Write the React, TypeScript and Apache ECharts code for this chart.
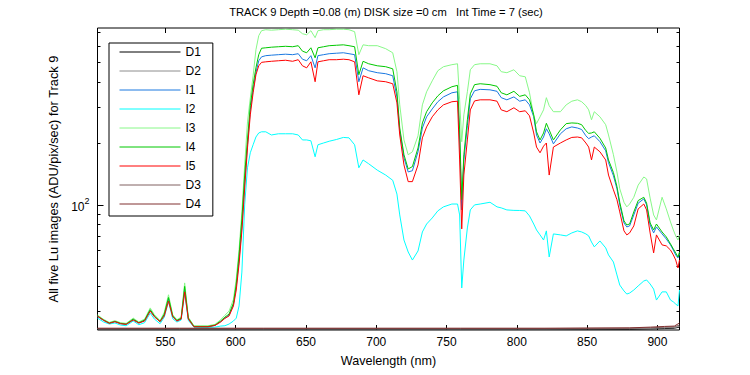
import React, { useEffect, useRef } from "react";
import * as echarts from "echarts";

const FONT = "'Liberation Sans', Arial, Helvetica, sans-serif";

const titleText = "TRACK 9 Depth =0.08 (m) DISK size =0 cm   Int Time = 7 (sec)";
const xName = "Wavelength (nm)";
const yName = "All five Lu images (ADU/pix/sec) for Track 9";

const xMin = 501.7;
const xMax = 915.7;
const yMin = 24.4;
const yMax = 735;

const xTicks = [550, 600, 650, 700, 750, 800, 850, 900];
const yMajorTicks = [100];
const yMinorTicks = [30, 40, 50, 60, 70, 80, 90, 200, 300, 400, 500, 600, 700];

const wavelength = [
  501.7, 506.1, 510.1, 514.1, 518.1, 522.1, 527.1, 531.1, 535.2, 539.2,
  542.2, 546.2, 549.2, 552.2, 555.2, 558.2, 561.2, 563.7, 566.3, 570.3,
  575.3, 580.3, 585.3, 589.3, 592.3, 595.3, 598.4, 600.4, 602.4, 604.4,
  606.4, 608.4, 610.4, 612.4, 614.4, 616.4, 618.4, 621.4, 625.4, 630.4,
  635.5, 640.5, 644.5, 647.5, 650.5, 653.5, 656.5, 658.5, 662.5, 666.5,
  671.6, 676.6, 680.6, 684.6, 687.6, 690.6, 694.6, 700.7, 706.7, 711.7,
  714.7, 716.7, 719.7, 722.7, 725.7, 729.7, 732.8, 735.8, 739.8, 743.8,
  747.8, 753.8, 757.8, 759.3, 760.8, 762.3, 764.8, 766.9, 769.9, 773.9,
  780.9, 785.9, 788.9, 792.9, 797.9, 802.0, 806.0, 809.0, 812.0, 814.0,
  816.5, 819.0, 821.0, 823.0, 826.0, 831.0, 835.1, 839.1, 843.1, 846.1,
  849.1, 851.1, 853.1, 855.1, 859.1, 863.2, 865.2, 868.7, 871.2, 873.2,
  876.2, 878.2, 880.2, 883.2, 886.3, 890.3, 892.3, 894.8, 897.3, 899.3,
  903.3, 906.3, 909.3, 911.3, 913.0, 914.6, 915.7,
];

const I1 = [
  28.4, 27.2, 26.3, 26.8, 26.2, 26.0, 27.4, 26.4, 27.1, 30.4,
  28.4, 26.8, 28.9, 34.6, 28.4, 27.1, 27.7, 38.8, 27.7, 25.3,
  25.3, 25.3, 25.7, 26.8, 27.9, 28.8, 32.5, 39.8, 53.7, 78.0,
  128, 197, 292, 366, 444, 508, 531, 538, 541, 544,
  547, 544, 550, 517, 508, 538, 469, 538, 544, 550,
  553, 556, 550, 544, 401, 469, 454, 444, 439, 429,
  338, 231, 170, 145, 147, 182, 238, 270, 295, 320,
  338, 354, 358, 208, 94.5, 166, 244, 331, 362, 368,
  366, 360, 335, 327, 338, 322, 327, 309, 270, 220,
  201, 215, 236, 223, 199, 223, 236, 241, 238, 234,
  218, 211, 215, 218, 204, 184, 161, 139, 120, 100,
  81.6, 78.0, 78.9, 89.3, 102, 107, 100, 79.8, 72.9, 78.0,
  72.1, 68.1, 63.7, 60.1, 56.9, 55.0, 57.5,
];

const I2 = [
  27.9, 26.7, 26.1, 26.4, 25.8, 25.6, 27.0, 25.9, 26.5, 29.5,
  27.6, 26.2, 28.2, 33.6, 27.7, 26.7, 27.3, 37.1, 27.2, 25.2,
  25.1, 25.1, 25.2, 25.5, 25.6, 26.1, 27.0, 27.9, 32.0, 46.9,
  100, 152, 180, 197, 215, 225, 228, 228, 220, 223,
  223, 223, 220, 208, 208, 206, 172, 197, 201, 205,
  209, 214, 213, 197, 152, 166, 159, 148, 140, 132,
  113, 89.3, 67.3, 58.8, 53.7, 59.5, 73.7, 80.6, 86.3, 93.5,
  97.8, 101, 101, 89.3, 39.2, 53.7, 77.1, 94.5, 100, 101,
  103, 97.8, 96.7, 94.5, 94.0, 93.9, 93.5, 88.3, 80.6, 75.4,
  71.3, 67.3, 74.6, 55.6, 72.1, 71.3, 70.5, 72.9, 74.6, 73.7,
  72.1, 70.5, 65.8, 62.3, 66.6, 61.6, 56.9, 52.5, 45.4, 40.5,
  37.9, 36.6, 37.0, 38.3, 40.1, 42.4, 42.9, 41.0, 38.7, 34.2,
  37.5, 37.5, 34.2, 33.5, 32.7, 32.0, 38.3,
];

const I3 = [
  28.9, 27.5, 26.6, 27.1, 26.5, 26.3, 27.9, 26.7, 27.6, 31.3,
  29.0, 27.1, 29.8, 36.3, 29.0, 27.4, 28.2, 41.5, 28.2, 25.6,
  25.6, 25.6, 26.0, 27.4, 28.8, 30.2, 34.5, 43.5, 60.5, 92.4,
  157, 255, 334, 429, 575, 674, 713, 721, 717, 721,
  725, 721, 717, 689, 681, 713, 659, 713, 721, 721,
  725, 725, 721, 705, 544, 608, 602, 602, 582, 556,
  449, 309, 208, 176, 182, 218, 309, 358, 405, 454,
  475, 486, 491, 327, 204, 276, 358, 459, 486, 491,
  491, 480, 449, 444, 459, 429, 424, 354, 273, 250,
  270, 292, 335, 306, 286, 286, 309, 322, 327, 320,
  306, 292, 261, 286, 270, 247, 220, 176, 145, 120,
  103, 97.8, 101, 109, 125, 137, 134, 108, 89.3, 84.4,
  109, 95.6, 82.5, 75.4, 70.5, 67.3, 71.3,
];

const I4 = [
  28.6, 27.3, 26.4, 26.9, 26.3, 26.1, 27.6, 26.5, 27.3, 30.7,
  28.6, 26.9, 29.2, 35.2, 28.6, 27.2, 27.9, 39.9, 27.9, 25.4,
  25.4, 25.4, 25.8, 27.0, 28.2, 29.2, 33.1, 41.0, 56.9, 85.4,
  140, 208, 306, 388, 469, 544, 585, 588, 592, 595,
  598, 595, 602, 566, 556, 588, 525, 588, 595, 602,
  605, 608, 602, 595, 434, 505, 491, 480, 475, 464,
  358, 238, 176, 150, 154, 190, 252, 286, 316, 342,
  362, 379, 385, 233, 106, 176, 261, 350, 388, 392,
  388, 381, 354, 346, 360, 340, 346, 327, 276, 228,
  208, 225, 251, 233, 208, 233, 250, 252, 251, 247,
  231, 224, 225, 228, 212, 190, 166, 144, 123, 103,
  83.5, 79.8, 80.6, 92.4, 105, 109, 102, 81.6, 75.4, 80.6,
  73.7, 69.7, 64.4, 60.9, 58.2, 55.6, 58.8,
];

const I5 = [
  28.5, 27.2, 26.3, 26.8, 26.2, 26.0, 27.3, 26.4, 27.0, 30.2,
  28.3, 26.8, 28.6, 33.8, 28.3, 27.0, 27.6, 37.5, 27.6, 25.3,
  25.3, 25.3, 25.7, 26.7, 27.8, 28.6, 32.0, 38.3, 51.4, 74.6,
  121, 190, 276, 354, 434, 480, 499, 502, 505, 508,
  511, 505, 514, 480, 469, 502, 401, 502, 508, 514,
  514, 517, 514, 502, 346, 429, 419, 405, 401, 392,
  316, 220, 157, 130, 130, 157, 213, 241, 270, 292,
  309, 320, 322, 166, 76.3, 140, 208, 292, 323, 327,
  327, 322, 292, 286, 299, 286, 289, 273, 225, 192,
  180, 194, 201, 140, 192, 201, 208, 214, 215, 213,
  201, 192, 166, 192, 182, 166, 140, 118.5, 106, 92.4,
  74.6, 71.3, 72.9, 78.9, 95.6, 101, 94.5, 72.9, 58.2, 71.3,
  63.7, 63.0, 60.1, 56.9, 53.7, 49.1, 53.7,
];

const darkWavelength = [501.7, 560, 620, 700, 760, 820, 880, 895, 905, 912, 915.7];
const D1 = [24.6, 24.6, 24.6, 24.6, 24.6, 24.6, 24.6, 24.7, 24.8, 24.9, 25.2];
const D2 = [24.7, 24.7, 24.7, 24.7, 24.7, 24.7, 24.8, 24.9, 25.0, 25.1, 25.4];
const D3 = [24.8, 24.8, 24.8, 24.8, 24.8, 24.8, 24.9, 25.0, 25.2, 25.3, 25.8];
const D4 = [24.9, 24.9, 24.9, 24.9, 24.9, 24.9, 25.0, 25.2, 25.4, 25.5, 26.4];

const seriesNames = ["D1", "D2", "I1", "I2", "I3", "I4", "I5", "D3", "D4"];
const seriesColors = ["#000000", "#8c8c8c", "#1a78e0", "#00ffff", "#88f888", "#00c800", "#ff0000", "#806060", "#803030"];

export default function App() {
  const ref = useRef<HTMLDivElement>(null);

  useEffect(() => {
    document.body.style.margin = "0";
    const chart = echarts.init(ref.current as HTMLDivElement, null, { renderer: "svg" });

    const zip = (xs: number[], ys: number[]) => xs.map((x, i) => [x, ys[i]]);
    const dataByName: Record<string, number[][]> = {
      D1: zip(darkWavelength, D1),
      D2: zip(darkWavelength, D2),
      I1: zip(wavelength, I1),
      I2: zip(wavelength, I2),
      I3: zip(wavelength, I3),
      I4: zip(wavelength, I4),
      I5: zip(wavelength, I5),
      D3: zip(darkWavelength, D3),
      D4: zip(darkWavelength, D4),
    };

    const tickStyle = { color: "#000", width: 1 };

    const yBase = (position: "left" | "right") => ({
      type: "log" as const,
      logBase: 10,
      position,
      min: yMin,
      max: yMax,
      axisLine: { show: false },
      splitLine: { show: false },
      minorTick: { show: false },
      minorSplitLine: { show: false },
    });

    chart.setOption({
      animation: false,
      backgroundColor: "#fff",
      title: {
        text: titleText,
        left: 386,
        top: 6,
        textAlign: "center",
        padding: 0,
        textStyle: { fontSize: 11.2, fontWeight: "normal", color: "#000", fontFamily: FONT },
      },
      grid: {
        left: 97.5,
        right: 70.5,
        top: 28,
        bottom: 45,
        containLabel: false,
        outerBoundsMode: "none",
        show: true,
        borderColor: "#000",
        borderWidth: 1,
        backgroundColor: "transparent",
      },
      legend: {
        orient: "vertical",
        left: 109,
        top: 43,
        padding: [3, 12, 6, 10],
        itemWidth: 61,
        itemHeight: 12,
        itemGap: 7.0,
        borderColor: "#000",
        borderWidth: 1,
        borderRadius: 0,
        backgroundColor: "#fff",
        data: seriesNames,
        itemStyle: { opacity: 0, borderWidth: 0 },
        lineStyle: { width: 1 },
        textStyle: { fontSize: 12, color: "#000", fontFamily: FONT },
      },
      xAxis: [
        {
          type: "value",
          position: "bottom",
          min: xMin,
          max: xMax,
          axisLine: { show: false },
          splitLine: { show: false },
          axisTick: { show: true, inside: true, length: 5, customValues: xTicks, lineStyle: tickStyle },
          axisLabel: { customValues: xTicks, margin: 6, fontSize: 12, color: "#000", fontFamily: FONT },
          name: xName,
          nameLocation: "middle",
          nameGap: 24,
          nameTextStyle: { fontSize: 12.6, color: "#000", fontFamily: FONT },
        },
        {
          type: "value",
          position: "top",
          min: xMin,
          max: xMax,
          axisLine: { show: false },
          splitLine: { show: false },
          axisTick: { show: true, inside: true, length: 5, customValues: xTicks, lineStyle: tickStyle },
          axisLabel: { show: false },
        },
      ],
      yAxis: [
        {
          ...yBase("left"),
          axisTick: { show: true, inside: true, length: 6, customValues: yMajorTicks, lineStyle: tickStyle },
          axisLabel: {
            customValues: yMajorTicks,
            margin: 8,
            formatter: (v: number) => (Math.abs(v - 100) < 1 ? "{a|10}{b|2}" : ""),
            rich: {
              a: { fontSize: 12, color: "#000", fontFamily: FONT, verticalAlign: "bottom" },
              b: { fontSize: 9, color: "#000", fontFamily: FONT, verticalAlign: "bottom", padding: [0, 0, 7, 0] },
            },
          },
          name: yName,
          nameLocation: "middle",
          nameGap: 36,
          nameRotate: 90,
          nameTextStyle: { fontSize: 12.8, color: "#000", fontFamily: FONT },
        },
        {
          ...yBase("left"),
          axisTick: { show: true, inside: true, length: 3, customValues: yMinorTicks, lineStyle: tickStyle },
          axisLabel: { show: false },
        },
        {
          ...yBase("right"),
          axisTick: { show: true, inside: true, length: 6, customValues: yMajorTicks, lineStyle: tickStyle },
          axisLabel: { show: false },
        },
        {
          ...yBase("right"),
          axisTick: { show: true, inside: true, length: 3, customValues: yMinorTicks, lineStyle: tickStyle },
          axisLabel: { show: false },
        },
      ],
      series: seriesNames.map((name, i) => ({
        type: "line",
        name,
        xAxisIndex: 0,
        yAxisIndex: 0,
        data: dataByName[name],
        symbol: "none",
        showSymbol: false,
        clip: true,
        lineStyle: { width: 1, color: seriesColors[i] },
        itemStyle: { color: seriesColors[i] },
        emphasis: { disabled: true },
      })),
    });

    return () => chart.dispose();
  }, []);

  return (
    <div
      ref={ref}
      style={{ position: "fixed", left: 0, top: 0, width: 750, height: 375, background: "#fff" }}
    />
  );
}
